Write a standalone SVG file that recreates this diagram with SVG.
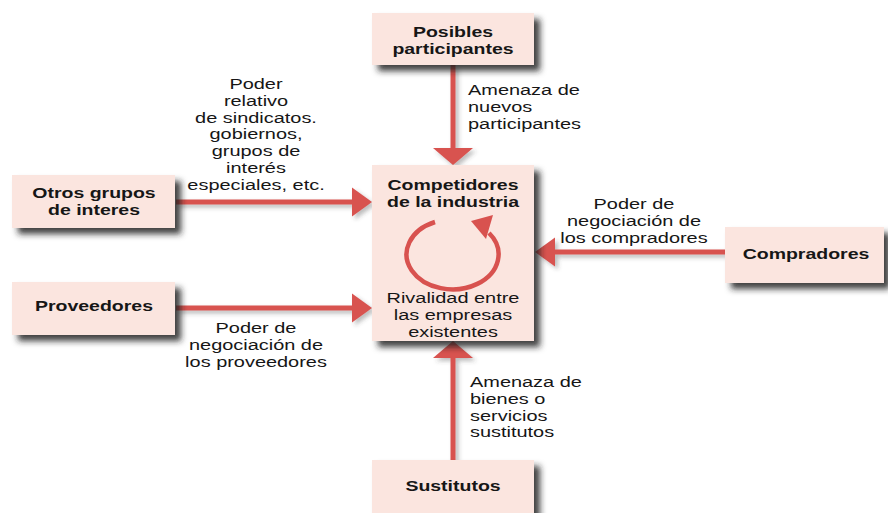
<svg xmlns="http://www.w3.org/2000/svg" width="888" height="513" viewBox="0 0 888 513">
<style>
.box{fill:#fbe5df;}
.t{font-family:"Liberation Sans",Arial,sans-serif;font-size:15px;fill:#161616;}
.b{font-weight:bold;}
.m{text-anchor:middle;}
.ln{stroke:#d8524f;stroke-width:5;fill:none;}
</style>
<defs>
<filter id="sh" x="-20%" y="-20%" width="140%" height="150%">
<feDropShadow dx="6" dy="6" stdDeviation="3" flood-color="#222" flood-opacity="0.85"/>
</filter>
<filter id="shl" x="-20%" y="-20%" width="140%" height="140%">
<feDropShadow dx="3" dy="3" stdDeviation="2" flood-color="#444" flood-opacity="0.35"/>
</filter>
<marker id="ah" markerUnits="userSpaceOnUse" markerWidth="20" markerHeight="30" refX="10" refY="14.5" orient="auto" overflow="visible">
<path d="M0,0 L20,14.5 L0,29 z" fill="#d8524f"/>
</marker>
<marker id="av" markerUnits="userSpaceOnUse" markerWidth="17" markerHeight="40" refX="7" refY="20" orient="auto" overflow="visible">
<path d="M0,0 L17,20 L0,40 z" fill="#d8524f"/>
</marker>
</defs>
<rect width="888" height="513" fill="#ffffff"/>

<g id="connectors" filter="url(#shl)">
<line class="ln" x1="453" y1="65" x2="453" y2="155" marker-end="url(#av)"/>
<line class="ln" x1="176" y1="202" x2="362" y2="202" marker-end="url(#ah)"/>
<line class="ln" x1="176" y1="308" x2="362" y2="308" marker-end="url(#ah)"/>
<line class="ln" x1="725" y1="252" x2="545" y2="252" marker-end="url(#ah)"/>
<line class="ln" x1="453" y1="460" x2="453" y2="351" marker-end="url(#av)"/>
</g>

<g id="labels">
<g transform="translate(468,0) scale(1.33,1)">
<text class="t" x="0" y="95">Amenaza de</text>
<text class="t" x="0" y="111.8">nuevos</text>
<text class="t" x="0" y="128.6">participantes</text>
</g>
<g transform="translate(256,0) scale(1.33,1)">
<text class="t m" x="0" y="89">Poder</text>
<text class="t m" x="0" y="105.8">relativo</text>
<text class="t m" x="0" y="122.6">de sindicatos.</text>
<text class="t m" x="0" y="139.4">gobiernos,</text>
<text class="t m" x="0" y="156.2">grupos de</text>
<text class="t m" x="0" y="173">interés</text>
<text class="t m" x="0" y="189.8">especiales, etc.</text>
</g>
<g transform="translate(256,0) scale(1.33,1)">
<text class="t m" x="0" y="333">Poder de</text>
<text class="t m" x="0" y="349.8">negociación de</text>
<text class="t m" x="0" y="366.6">los proveedores</text>
</g>
<g transform="translate(634,0) scale(1.33,1)">
<text class="t m" x="0" y="209">Poder de</text>
<text class="t m" x="0" y="225.8">negociación de</text>
<text class="t m" x="0" y="242.6">los compradores</text>
</g>
<g transform="translate(470,0) scale(1.33,1)">
<text class="t" x="0" y="387">Amenaza de</text>
<text class="t" x="0" y="403.8">bienes o</text>
<text class="t" x="0" y="420.6">servicios</text>
<text class="t" x="0" y="437.4">sustitutos</text>
</g>
</g>

<g id="posibles">
<rect class="box" x="372" y="13" width="162" height="52" filter="url(#sh)"/>
<g transform="translate(453,0) scale(1.3,1)">
<text class="t b m" x="0" y="37">Posibles</text>
<text class="t b m" x="0" y="53.8">participantes</text>
</g>
</g>

<g id="competidores">
<rect class="box" x="372" y="165" width="162" height="176" filter="url(#sh)"/>
<g transform="translate(453,0) scale(1.3,1)">
<text class="t b m" x="0" y="190">Competidores</text>
<text class="t b m" x="0" y="206.8">de la industria</text>
</g>
<g transform="translate(453,0) scale(1.33,1)">
<text class="t m" x="0" y="303">Rivalidad entre</text>
<text class="t m" x="0" y="319.8">las empresas</text>
<text class="t m" x="0" y="336.6">existentes</text>
</g>
<path d="M435,222 A46,35 0 1 0 489,233" fill="none" stroke="#d8524f" stroke-width="4.5"/>
<polygon points="471,221 493,215 486,239" fill="#d8524f"/>
</g>

<g id="otros">
<rect class="box" x="12" y="175" width="163" height="53" filter="url(#sh)"/>
<g transform="translate(94,0) scale(1.3,1)">
<text class="t b m" x="0" y="198">Otros grupos</text>
<text class="t b m" x="0" y="214.8">de interes</text>
</g>
</g>

<g id="proveedores">
<rect class="box" x="12" y="282" width="163" height="53" filter="url(#sh)"/>
<g transform="translate(94,0) scale(1.3,1)">
<text class="t b m" x="0" y="311">Proveedores</text>
</g>
</g>

<g id="compradores">
<rect class="box" x="725" y="227" width="159" height="56" filter="url(#sh)"/>
<g transform="translate(806,0) scale(1.3,1)">
<text class="t b m" x="0" y="259">Compradores</text>
</g>
</g>

<g id="sustitutos">
<rect class="box" x="372" y="460" width="162" height="60" filter="url(#sh)"/>
<g transform="translate(453,0) scale(1.3,1)">
<text class="t b m" x="0" y="491">Sustitutos</text>
</g>
</g>
</svg>
